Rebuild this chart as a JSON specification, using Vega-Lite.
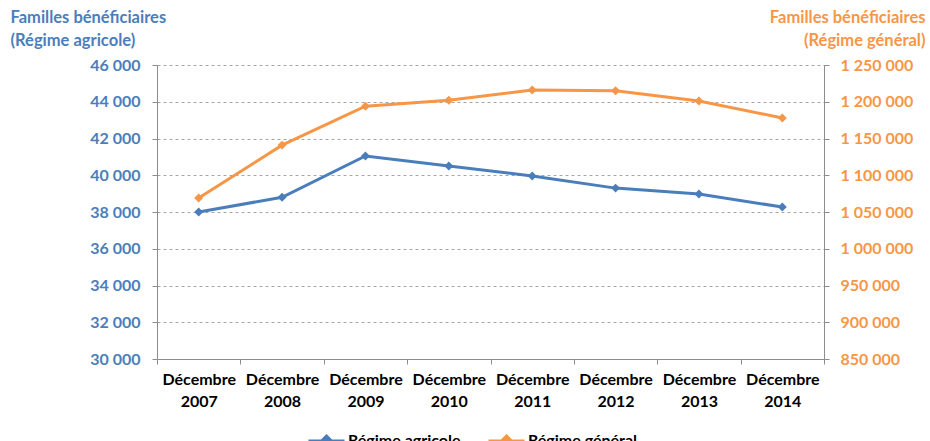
{
  "$schema": "https://vega.github.io/schema/vega-lite/v6.json",
  "width": 667,
  "height": 294,
  "autosize": {"type": "none"},
  "padding": {"left": 157, "top": 65, "right": 106, "bottom": 82},
  "background": "white",
  "config": {
    "locale": {"number": {"decimal": ",", "thousands": " ", "grouping": [3], "currency": ["", " €"]}},
    "view": {"stroke": null},
    "font": "Lato"
  },
  "datasets": {
    "rows": [
      {"mois": "Décembre 2007", "serie": "Régime agricole", "valeur": 38000},
      {"mois": "Décembre 2008", "serie": "Régime agricole", "valeur": 38800},
      {"mois": "Décembre 2009", "serie": "Régime agricole", "valeur": 41050},
      {"mois": "Décembre 2010", "serie": "Régime agricole", "valeur": 40500},
      {"mois": "Décembre 2011", "serie": "Régime agricole", "valeur": 39960},
      {"mois": "Décembre 2012", "serie": "Régime agricole", "valeur": 39300},
      {"mois": "Décembre 2013", "serie": "Régime agricole", "valeur": 38980},
      {"mois": "Décembre 2014", "serie": "Régime agricole", "valeur": 38270},
      {"mois": "Décembre 2007", "serie": "Régime général", "valeur": 1069000},
      {"mois": "Décembre 2008", "serie": "Régime général", "valeur": 1141000},
      {"mois": "Décembre 2009", "serie": "Régime général", "valeur": 1194000},
      {"mois": "Décembre 2010", "serie": "Régime général", "valeur": 1202000},
      {"mois": "Décembre 2011", "serie": "Régime général", "valeur": 1216000},
      {"mois": "Décembre 2012", "serie": "Régime général", "valeur": 1215000},
      {"mois": "Décembre 2013", "serie": "Régime général", "valeur": 1201000},
      {"mois": "Décembre 2014", "serie": "Régime général", "valeur": 1178000}
    ]
  },
  "data": {"name": "rows"},
  "encoding": {
    "x": {
      "field": "mois", "type": "ordinal", "sort": null,
      "scale": {"type": "band", "paddingInner": 0, "paddingOuter": 0},
      "axis": {
        "title": null, "labelAngle": 0, "labelExpr": "isValid(datum.value) ? split(datum.value, ' ') : ''",
        "labelFont": "Lato", "labelFontWeight": "bold", "labelFontSize": 16, "labelColor": "#000000",
        "labelLineHeight": 22, "labelPadding": 7,
        "tickBand": "extent", "tickColor": "#8c8c8c", "tickSize": 5,
        "domainColor": "#8c8c8c", "domainWidth": 1, "grid": false
      }
    },
    "color": {
      "field": "serie", "type": "nominal",
      "scale": {"domain": ["Régime agricole", "Régime général"], "range": ["#4A7EBB", "#F79646"]},
      "legend": {
        "title": null, "orient": "none", "direction": "horizontal",
        "legendX": 150, "legendY": 356,
        "symbolType": "M-1,0L1,0M0,-0.28L0.28,0L0,0.28L-0.28,0Z",
        "symbolSize": 1300, "symbolStrokeWidth": 2.5,
        "labelFont": "Lato", "labelFontWeight": "bold", "labelFontSize": 16, "labelColor": "#000000",
        "labelOffset": 2, "columnPadding": 22,
        "encode": {"symbols": {"update": {"stroke": {"scale": "color", "field": "value"}, "fill": {"scale": "color", "field": "value"}}}}
      }
    }
  },
  "layer": [
    {
      "transform": [{"filter": "datum.serie === 'Régime agricole'"}],
      "mark": {"type": "line", "strokeWidth": 3, "point": {"shape": "diamond", "size": 80, "filled": true}},
      "encoding": {
        "y": {
          "field": "valeur", "type": "quantitative",
          "scale": {"domain": [30000, 46000], "nice": false, "zero": false},
          "axis": {
            "title": ["Familles bénéficiaires", "(Régime agricole)"],
            "titleAngle": 0, "titleAlign": "left", "titleBaseline": "top",
            "titleX": -147, "titleY": -56, "titleLineHeight": 23,
            "titleFont": "Lato", "titleFontWeight": "bold", "titleFontSize": 16.5, "titleColor": "#4A7EBB",
            "values": [30000, 32000, 34000, 36000, 38000, 40000, 42000, 44000, 46000],
            "format": ",d",
            "labelFont": "Lato", "labelFontWeight": "bold", "labelFontSize": 16, "labelColor": "#4A7EBB",
            "labelPadding": 12, "tickColor": "#8c8c8c", "tickSize": 5,
            "domainColor": "#8c8c8c",
            "grid": true, "gridColor": "#a6a6a6", "gridDash": [3, 3], "gridWidth": 1
          }
        }
      }
    },
    {
      "transform": [{"filter": "datum.serie === 'Régime général'"}],
      "mark": {"type": "line", "strokeWidth": 3, "point": {"shape": "diamond", "size": 80, "filled": true}},
      "encoding": {
        "y": {
          "field": "valeur", "type": "quantitative",
          "scale": {"domain": [850000, 1250000], "nice": false, "zero": false},
          "axis": {
            "orient": "right",
            "title": ["Familles bénéficiaires", "(Régime général)"],
            "titleAngle": 0, "titleAlign": "right", "titleBaseline": "top",
            "titleX": 101, "titleY": -56, "titleLineHeight": 23,
            "titleFont": "Lato", "titleFontWeight": "bold", "titleFontSize": 16.5, "titleColor": "#F79646",
            "values": [850000, 900000, 950000, 1000000, 1050000, 1100000, 1150000, 1200000, 1250000],
            "format": ",d",
            "labelFont": "Lato", "labelFontWeight": "bold", "labelFontSize": 16, "labelColor": "#F79646",
            "labelPadding": 11, "tickColor": "#8c8c8c", "tickSize": 5,
            "domainColor": "#8c8c8c", "grid": false
          }
        }
      }
    }
  ],
  "resolve": {"scale": {"y": "independent"}}
}
